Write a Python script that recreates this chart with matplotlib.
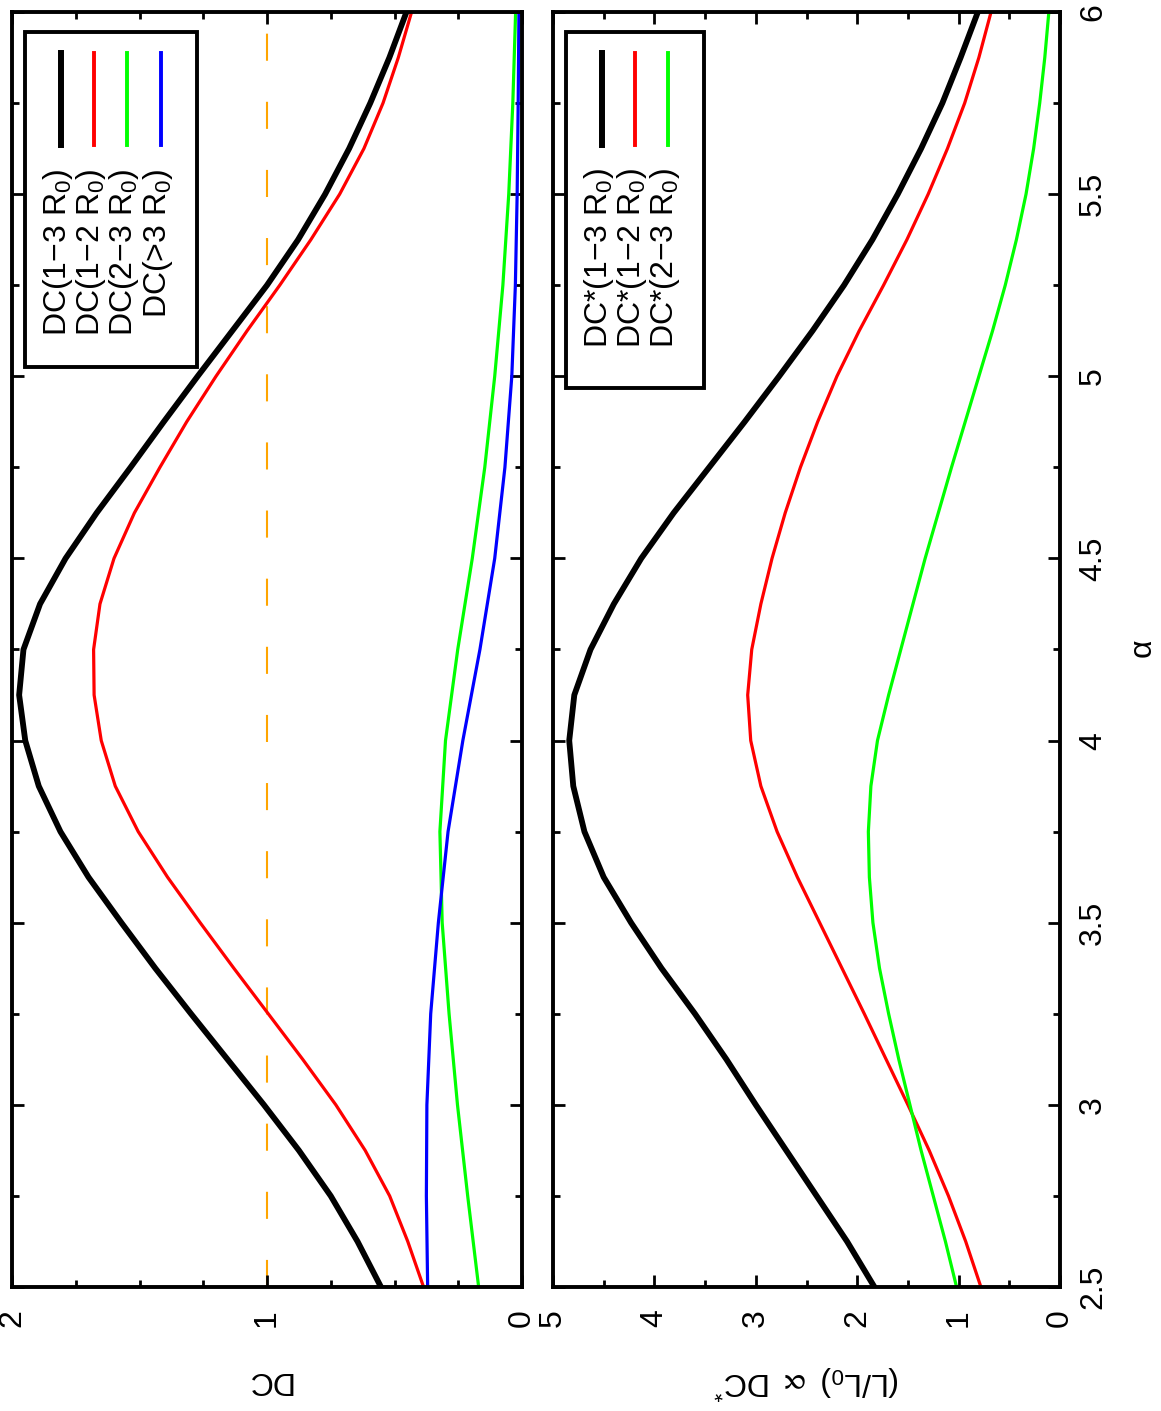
import matplotlib
matplotlib.use('Agg')
import matplotlib.pyplot as plt
from matplotlib.lines import Line2D
from matplotlib.patches import Rectangle
from matplotlib.ticker import MultipleLocator, FormatStrFormatter

plt.rcParams['font.family'] = ['Liberation Sans', 'DejaVu Sans']
plt.rcParams['mathtext.fontset'] = 'custom'
plt.rcParams['mathtext.rm'] = 'Liberation Sans'
plt.rcParams['mathtext.it'] = 'Liberation Sans:italic'
plt.rcParams['mathtext.bf'] = 'Liberation Sans:bold'
plt.rcParams['mathtext.fallback'] = 'stixsans'

# alpha grids
alpha_fine = [2.5, 2.625, 2.75, 2.875, 3.0, 3.125, 3.25, 3.375, 3.5, 3.625,
              3.75, 3.875, 4.0, 4.125, 4.25, 4.375, 4.5, 4.625, 4.75, 4.875,
              5.0, 5.125, 5.25, 5.375, 5.5, 5.625, 5.75, 5.875, 6.0]
alpha_coarse = [2.5, 2.75, 3.0, 3.25, 3.5, 3.75, 4.0, 4.25, 4.5, 4.75,
                5.0, 5.25, 5.5, 5.75, 6.0]

# top panel: DC
dc_13 = [0.553, 0.645, 0.750, 0.875, 1.012, 1.155, 1.298, 1.438, 1.571, 1.700,
         1.810, 1.895, 1.948, 1.972, 1.955, 1.890, 1.790, 1.668, 1.535, 1.405,
         1.272, 1.136, 1.000, 0.878, 0.772, 0.678, 0.595, 0.520, 0.453]
dc_12 = [0.386, 0.448, 0.519, 0.615, 0.730, 0.860, 0.995, 1.130, 1.262, 1.390,
         1.505, 1.595, 1.650, 1.678, 1.680, 1.655, 1.600, 1.520, 1.420, 1.315,
         1.200, 1.078, 0.950, 0.828, 0.715, 0.620, 0.545, 0.485, 0.433]
dc_23 = [0.170, 0.213, 0.253, 0.286, 0.313, 0.322, 0.300, 0.252, 0.195, 0.146,
         0.107, 0.075, 0.052, 0.036, 0.025]
dc_gt3 = [0.370, 0.375, 0.373, 0.358, 0.328, 0.290, 0.232, 0.165, 0.107, 0.067,
          0.040, 0.026, 0.019, 0.015, 0.012]

# bottom panel: DC*
dcs_13 = [1.83, 2.10, 2.40, 2.70, 3.00, 3.29, 3.60, 3.93, 4.23, 4.50,
          4.69, 4.80, 4.84, 4.79, 4.63, 4.40, 4.13, 3.81, 3.46, 3.11,
          2.77, 2.44, 2.13, 1.85, 1.60, 1.37, 1.16, 0.98, 0.81]
dcs_12 = [0.78, 0.93, 1.10, 1.29, 1.50, 1.715, 1.93, 2.15, 2.37, 2.59,
          2.79, 2.95, 3.05, 3.08, 3.04, 2.95, 2.84, 2.71, 2.56, 2.39,
          2.20, 1.98, 1.74, 1.51, 1.30, 1.11, 0.94, 0.80, 0.68]
dcs_23 = [1.02, 1.13, 1.25, 1.37, 1.48, 1.59, 1.69, 1.78, 1.845, 1.88,
          1.89, 1.865, 1.80, 1.69, 1.57, 1.45, 1.33, 1.20, 1.07, 0.935,
          0.80, 0.665, 0.54, 0.43, 0.335, 0.26, 0.20, 0.15, 0.11]

labels_top = ['DC(1\u22123 R$_0$)', 'DC(1\u22122 R$_0$)', 'DC(2\u22123 R$_0$)', 'DC(>3 R$_0$)']
labels_bot = ['DC*(1\u22123 R$_0$)', 'DC*(1\u22122 R$_0$)', 'DC*(2\u22123 R$_0$)']
colors = ['black', '#ff0000', '#00ff00', '#0000ff']
widths = [4.2, 2.3, 2.3, 2.3]

W, H = 1161, 1411
FS = 23
fig = plt.figure(figsize=(W / 100, H / 100), dpi=100)


def rect(x0, y0, x1, y1):
    return [x0 / W, 1 - y1 / H, (x1 - x0) / W, (y1 - y0) / H]


ax1 = fig.add_axes(rect(12, 12, 522, 1287))
ax2 = fig.add_axes(rect(553, 12, 1060, 1287))

ax1.plot([1, 1], [2.5, 6], color='#ffa500', lw=1.5, dashes=(13, 19.7), zorder=1)
ax1.plot(dc_13, alpha_fine, color=colors[0], lw=widths[0])
ax1.plot(dc_12, alpha_fine, color=colors[1], lw=widths[1])
ax1.plot(dc_23, alpha_coarse, color=colors[2], lw=widths[2])
ax1.plot(dc_gt3, alpha_coarse, color=colors[3], lw=widths[3])

ax2.plot(dcs_13, alpha_fine, color=colors[0], lw=widths[0])
ax2.plot(dcs_12, alpha_fine, color=colors[1], lw=widths[1])
ax2.plot(dcs_23, alpha_fine, color=colors[2], lw=widths[2])

ax1.set_xlim(2, 0)
ax2.set_xlim(5, 0)
ax1.xaxis.set_major_locator(MultipleLocator(1))
ax1.xaxis.set_minor_locator(MultipleLocator(0.25))
ax2.xaxis.set_major_locator(MultipleLocator(1))
ax2.xaxis.set_minor_locator(MultipleLocator(0.5))

for ax in (ax1, ax2):
    ax.set_ylim(2.5, 6)
    ax.yaxis.set_major_locator(MultipleLocator(0.5))
    ax.yaxis.set_minor_locator(MultipleLocator(0.25))
    ax.xaxis.set_major_formatter(FormatStrFormatter('%g'))
    ax.yaxis.set_major_formatter(FormatStrFormatter('%g'))
    ax.tick_params(which='both', direction='in', top=True, bottom=True,
                   left=True, right=True, width=2.0)
    ax.tick_params(which='major', length=8.6)
    ax.tick_params(which='minor', length=5)
    ax.tick_params(axis='x', labelsize=FS, pad=16, labelrotation=90)
    for s in ax.spines.values():
        s.set_linewidth(2.8)

ax1.tick_params(axis='y', labelleft=False)
ax2.tick_params(axis='y', labelleft=False, labelright=True, labelsize=FS, pad=13)
for lab in ax2.yaxis.get_ticklabels(which='major'):
    lab.set_rotation(90)
    lab.set_va('center')

# axis titles (whole figure turned a quarter)
fig.text(268 / W, 1 - 1380 / H, 'DC', rotation=180, ha='center', va='center', fontsize=FS)
fig.text(807 / W, 1 - 1382 / H, '(L/L$_0$) $\\propto$ DC$^{*}$', rotation=180,
         ha='center', va='center', fontsize=FS)
fig.text(1143 / W, 1 - 648 / H, '\u03b1', rotation=90, ha='center', va='center', fontsize=FS)


def legend(box, xs, labels):
    x0, y0, x1, y1 = box
    fig.add_artist(Rectangle((x0 / W, 1 - y1 / H), (x1 - x0) / W, (y1 - y0) / H,
                             transform=fig.transFigure, fill=False,
                             edgecolor='black', lw=2.8))
    for i, (x, lab) in enumerate(zip(xs, labels)):
        lw = 4.3 if i == 0 else 2.8
        fig.add_artist(Line2D([x / W, x / W], [1 - 53 / H, 1 - 145 / H],
                              transform=fig.transFigure, color=colors[i], lw=lw))
        fig.text((x - 3) / W, 1 - 168 / H, lab, rotation=90, ha='center', va='top',
                 fontsize=FS)


legend((25, 32, 197, 367), [61, 94, 127, 161], labels_top)
legend((566, 32, 704, 388), [602, 635, 668], labels_bot)

fig.savefig('out.png', dpi=100)
